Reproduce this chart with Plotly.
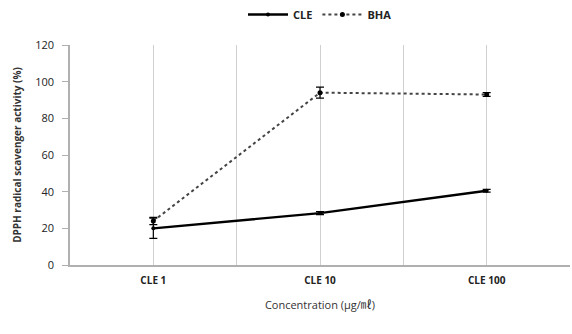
import plotly.graph_objects as go

categories = ["CLE 1", "CLE 10", "CLE 100"]
cle_values = [20, 28.3, 40.5]
cle_errors = [5.5, 0.8, 0.8]
bha_values = [24, 94, 93]
bha_errors = [2, 3, 1]
x_pos = [0, 1, 2]

font_family = "Open Sans, Noto Sans CJK KR, sans-serif"

fig = go.Figure()
fig.add_trace(go.Scatter(
    x=x_pos, y=cle_values, name="CLE", mode="lines+markers",
    line=dict(color="black", width=2.4),
    marker=dict(symbol="circle", size=4, color="black"),
    error_y=dict(type="data", array=cle_errors, color="black", thickness=1.2, width=4),
))
fig.add_trace(go.Scatter(
    x=x_pos, y=bha_values, name="BHA", mode="lines+markers",
    line=dict(color="#444444", width=2, dash="dot"),
    marker=dict(symbol="circle", size=5, color="black"),
    error_y=dict(type="data", array=bha_errors, color="black", thickness=1.2, width=4),
))

fig.update_layout(
    width=572, height=334,
    margin=dict(l=70, r=2, t=45, b=69),
    paper_bgcolor="white", plot_bgcolor="white",
    font=dict(family=font_family, size=10, color="#222222"),
    showlegend=True,
    legend=dict(orientation="h", x=0.5, xanchor="center", y=1.0, yref="container",
                yanchor="top", font=dict(size=11, color="#222222", weight="bold"),
                itemwidth=40, tracegroupgap=0),
)
fig.update_xaxes(
    range=[-0.5, 2.5], tickmode="array", tickvals=x_pos, ticktext=categories,
    showgrid=True, gridcolor="#d0d0d0", gridwidth=1,
    minor=dict(tickmode="array", tickvals=[0.5, 1.5], showgrid=True,
               gridcolor="#d0d0d0", gridwidth=1),
    showline=True, linecolor="#b0b0b0", linewidth=1.5, zeroline=False,
    ticks="", tickfont=dict(size=10, color="#222222", weight="bold"),
    ticklabelstandoff=5,
    title=dict(text="Concentration (μg/㎖)", font=dict(size=11, color="#333333"), standoff=16),
)
fig.update_yaxes(
    range=[0, 120], dtick=20, showgrid=False, zeroline=False,
    showline=True, linecolor="#b0b0b0", linewidth=1.5,
    ticks="outside", ticklen=6, tickcolor="#b0b0b0",
    ticklabelstandoff=6,
    tickfont=dict(size=11, color="#222222"),
    title=dict(text="<b>DPPH radical scavenger activity (%)</b>", font=dict(size=10, color="#333333"), standoff=12),
)

fig.write_html("out.html")
